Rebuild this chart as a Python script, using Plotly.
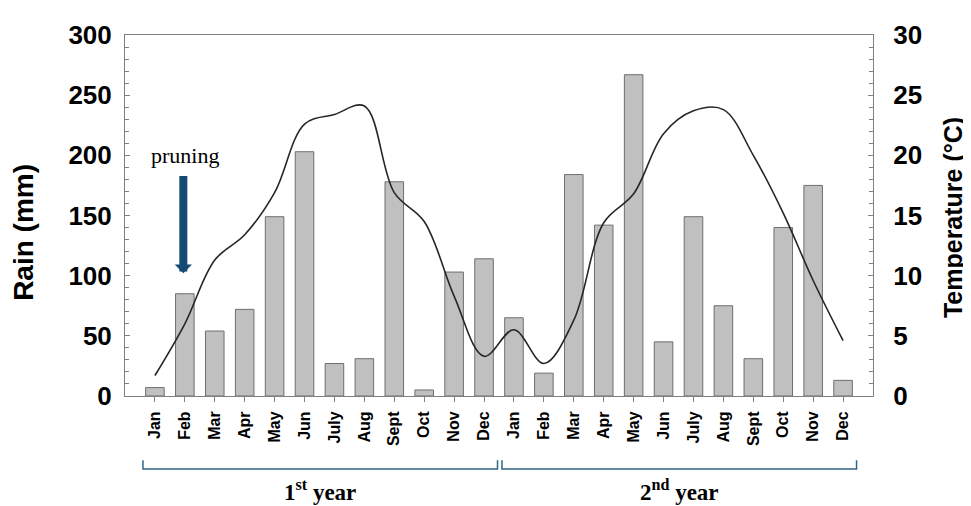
import plotly.graph_objects as go

months = ["Jan", "Feb", "Mar", "Apr", "May", "Jun", "July", "Aug", "Sept", "Oct", "Nov", "Dec"]
tick_labels = months + months
rain = [7, 85, 54, 72, 149, 203, 27, 31, 178, 5, 103, 114,
        65, 19, 184, 142, 267, 45, 149, 75, 31, 140, 175, 13]
temperature = [1.7, 6.0, 11.3, 13.4, 16.9, 22.6, 23.4, 24.1, 16.9, 14.5, 8.3, 3.3,
               5.5, 2.7, 6.3, 14.4, 16.8, 21.8, 23.7, 23.8, 20.0, 15.2, 9.6, 4.6]
positions = list(range(len(tick_labels)))
year_labels = ["1<sup>st</sup> year", "2<sup>nd</sup> year"]
year_spans = [(-0.4, 11.45), (11.6, 23.45)]

AX = "#808080"
fig = go.Figure()
fig.add_trace(go.Bar(x=positions, y=rain, width=0.62,
                     marker=dict(color="#c0c0c0", line=dict(color="#6e6e6e", width=1)),
                     showlegend=False))
fig.add_trace(go.Scatter(x=positions, y=temperature, yaxis="y2", mode="lines",
                         line=dict(color="#262626", width=1.6, shape="spline", smoothing=1.0),
                         showlegend=False))

tickfont = dict(family="Liberation Sans, Arial", size=26, color="#000")
fig.update_layout(
    width=963, height=498,
    margin=dict(l=117, r=98, t=16, b=110),
    paper_bgcolor="white", plot_bgcolor="white",
    xaxis=dict(range=[-1, 24], tickvals=positions, ticktext=["<b>%s</b>" % t for t in tick_labels],
               tickangle=-90, tickfont=dict(family="Liberation Sans, Arial", size=16, color="#000"),
               ticks="outside", ticklen=5, tickcolor=AX, ticklabelstandoff=3,
               showline=True, linecolor=AX, linewidth=1,
               mirror=True, showgrid=False, zeroline=False),
    yaxis=dict(range=[0, 300], tickvals=[0, 50, 100, 150, 200, 250, 300],
               ticktext=["<b>%d</b>" % v for v in [0, 50, 100, 150, 200, 250, 300]],
               tickfont=tickfont, ticks="inside", ticklen=5, tickcolor=AX, ticklabelstandoff=7,
               minor=dict(dtick=10, ticks="inside", ticklen=4, tickcolor=AX),
               showline=True, linecolor=AX, linewidth=1, showgrid=False, zeroline=False),
    yaxis2=dict(range=[0, 30], overlaying="y", side="right", tickvals=[0, 5, 10, 15, 20, 25, 30],
                ticktext=["<b>%d</b>" % v for v in [0, 5, 10, 15, 20, 25, 30]],
                tickfont=tickfont, ticks="inside", ticklen=5, tickcolor=AX, ticklabelstandoff=14,
                minor=dict(dtick=1, ticks="inside", ticklen=4, tickcolor=AX),
                showline=True, linecolor=AX, linewidth=1, showgrid=False, zeroline=False),
)

annotations = [
    dict(text="<b>Rain (mm)</b>", xref="paper", yref="paper", x=-0.135, y=0.452,
         xanchor="center", yanchor="middle",
         textangle=-90, showarrow=False, font=dict(family="Liberation Sans, Arial", size=28, color="#000")),
    dict(text="<b>Temperature (°C)</b>", xref="paper", yref="paper", x=1.108, y=0.495,
         xanchor="center", yanchor="middle",
         textangle=-90, showarrow=False, font=dict(family="Liberation Sans, Arial", size=25, color="#000")),
    dict(text="pruning", xref="x", yref="y", x=1.0, y=200, showarrow=False,
         xanchor="center", yanchor="middle",
         font=dict(family="Liberation Serif, Times New Roman", size=22, color="#000")),
    dict(text="", xref="x", yref="y", x=0.95, y=102, axref="x", ayref="y", ax=0.95, ay=184,
         showarrow=True, arrowhead=1, arrowwidth=8, arrowsize=0.36, arrowcolor="#134a72", standoff=0),
]
shapes = []
for (x0, x1), lab in zip(year_spans, year_labels):
    shapes.append(dict(type="path", xref="x", yref="paper",
                       path="M %f,%f L %f,%f L %f,%f L %f,%f" % (x0, -0.178, x0, -0.202, x1, -0.202, x1, -0.178),
                       line=dict(color="#2f6485", width=1.5)))
    annotations.append(dict(text="<b>%s</b>" % lab, xref="x", yref="paper", x=(x0 + x1) / 2, y=-0.262,
                            xanchor="center", yanchor="middle",
                            showarrow=False, font=dict(family="Liberation Serif, Times New Roman", size=23, color="#000")))
fig.update_layout(annotations=annotations, shapes=shapes)

fig.write_html("out.html")
